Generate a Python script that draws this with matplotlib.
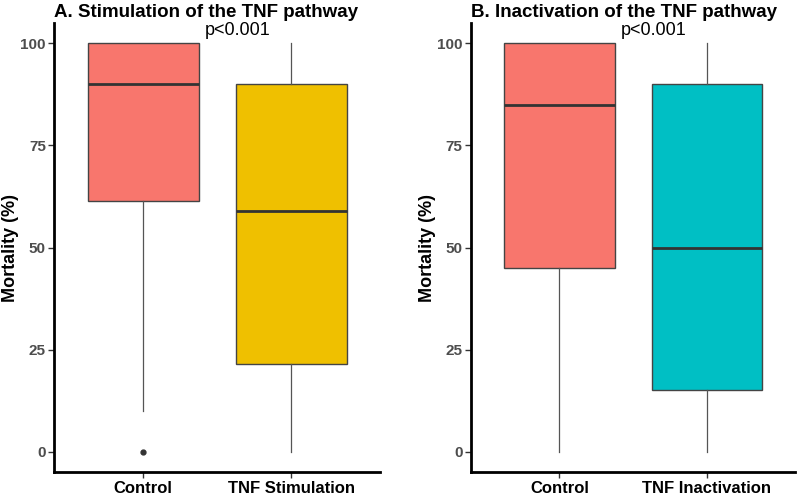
import matplotlib.pyplot as plt

plt.rcParams['font.family'] = ['Liberation Sans', 'DejaVu Sans']

# resumen de cada caja
grupos_a = ['Control', 'TNF Stimulation']
grupos_b = ['Control', 'TNF Inactivation']
q1_a = [61.5, 21.5]
mediana_a = [90, 59]
q3_a = [100, 90]
bigote_min_a = [10, 0]
bigote_max_a = [100, 100]
atipicos_a = [[0], []]

q1_b = [45, 15]
mediana_b = [85, 50]
q3_b = [100, 90]
bigote_min_b = [0, 0]
bigote_max_b = [100, 100]
atipicos_b = [[], []]

colores_a = ['#F8766D', '#EFC000']
colores_b = ['#F8766D', '#00BFC4']
titulos = ['A. Stimulation of the TNF pathway', 'B. Inactivation of the TNF pathway']
p_valor = 'p<0.001'


def stats(q1, med, q3, lo, hi, fl):
    return [dict(q1=a, med=b, q3=c, whislo=d, whishi=e, fliers=f)
            for a, b, c, d, e, f in zip(q1, med, q3, lo, hi, fl)]


fig = plt.figure(figsize=(7.97, 4.96), dpi=100)
ax1 = fig.add_axes([0.068, 0.048, 0.409, 0.906])
ax2 = fig.add_axes([0.591, 0.048, 0.407, 0.906])

datos = [
    (ax1, stats(q1_a, mediana_a, q3_a, bigote_min_a, bigote_max_a, atipicos_a), colores_a, grupos_a),
    (ax2, stats(q1_b, mediana_b, q3_b, bigote_min_b, bigote_max_b, atipicos_b), colores_b, grupos_b),
]

for i, (ax, st, cols, grupos) in enumerate(datos):
    bp = ax.bxp(st, positions=[1, 2], widths=0.75, patch_artist=True, showcaps=False,
                boxprops=dict(edgecolor='#444444', linewidth=1.0),
                medianprops=dict(color='#333333', linewidth=2.0),
                whiskerprops=dict(color='#555555', linewidth=0.9),
                flierprops=dict(marker='o', markersize=3.5, markerfacecolor='#333333',
                                markeredgecolor='#333333'))
    for caja, c in zip(bp['boxes'], cols):
        caja.set_facecolor(c)
    ax.set_xlim(0.4, 2.6)
    ax.set_ylim(-5, 105)
    ax.set_yticks([0, 25, 50, 75, 100])
    ax.set_xticks([1, 2])
    ax.set_xticklabels(grupos, fontsize=12, fontweight='bold', color='black')
    for t in ax.get_yticklabels():
        t.set_fontsize(11)
        t.set_fontweight('bold')
        t.set_color('#4D4D4D')
    ax.tick_params(length=4, width=1, color='#333333', pad=2)
    for s in ['top', 'right']:
        ax.spines[s].set_visible(False)
    for s in ['left', 'bottom']:
        ax.spines[s].set_linewidth(2)
        ax.spines[s].set_color('black')
    ax.set_ylabel('Mortality (%)', fontsize=13, fontweight='bold', labelpad=1)
    ax.set_title(titulos[i], loc='left', fontsize=13.5, fontweight='bold', pad=4, x=0.0)
    ax.text(1.64, 103, p_valor, ha='center', va='center', fontsize=13)

fig.savefig('out.png', dpi=100)
